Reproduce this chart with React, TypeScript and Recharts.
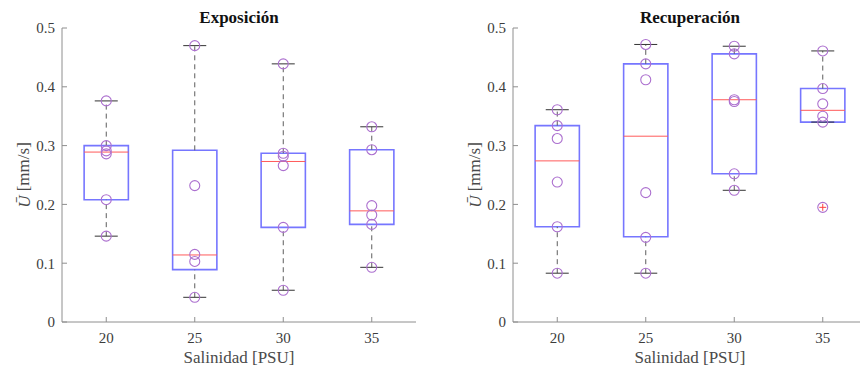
import {
  ComposedChart,
  XAxis,
  YAxis,
  Scatter,
  ReferenceArea,
  ReferenceLine,
  Label,
} from 'recharts'

const salinity = ['20', '25', '30', '35']
const yTicks = [0, 0.1, 0.2, 0.3, 0.4, 0.5]

// Exposición
const expoPoints = [
  [0.376, 0.3, 0.291, 0.286, 0.208, 0.146],
  [0.47, 0.232, 0.115, 0.103, 0.042],
  [0.439, 0.287, 0.282, 0.266, 0.161, 0.054],
  [0.332, 0.293, 0.198, 0.182, 0.166, 0.093],
]
const expoQ1 = [0.208, 0.089, 0.161, 0.166]
const expoMedian = [0.289, 0.114, 0.273, 0.189]
const expoQ3 = [0.3, 0.292, 0.287, 0.293]
const expoLow = [0.146, 0.042, 0.054, 0.093]
const expoHigh = [0.376, 0.47, 0.439, 0.332]
const expoOutliers: number[][] = [[], [], [], []]

// Recuperación
const recuPoints = [
  [0.361, 0.334, 0.312, 0.238, 0.162, 0.083],
  [0.472, 0.439, 0.412, 0.22, 0.144, 0.083],
  [0.469, 0.456, 0.378, 0.375, 0.252, 0.224],
  [0.461, 0.397, 0.371, 0.35, 0.34, 0.195],
]
const recuQ1 = [0.162, 0.145, 0.252, 0.34]
const recuMedian = [0.274, 0.316, 0.378, 0.36]
const recuQ3 = [0.334, 0.439, 0.456, 0.397]
const recuLow = [0.083, 0.083, 0.224, 0.34]
const recuHigh = [0.361, 0.472, 0.469, 0.461]
const recuOutliers: number[][] = [[], [], [], [0.195]]

const FONT = '"Liberation Serif", serif'
const AXIS = '#8e8e8e'
const BOX = '#7676ff'
const MEDIAN = '#ff5a5a'
const CIRCLE = '#ac70cf'
const PLOT_W = 354

interface PanelProps {
  title: string
  points: number[][]
  q1: number[]
  median: number[]
  q3: number[]
  low: number[]
  high: number[]
  outliers: number[][]
  left: number
  width: number
  marginLeft: number
  marginRight: number
  rightFrame: boolean
}

function BoxPanel({
  title,
  points,
  q1,
  median,
  q3,
  low,
  high,
  outliers,
  left,
  width,
  marginLeft,
  marginRight,
  rightFrame,
}: PanelProps) {
  const circles = points.flatMap((vals, i) => vals.map((v) => ({ x: i + 1, y: v })))
  const outs = outliers.flatMap((vals, i) => vals.map((v) => ({ x: i + 1, y: v })))

  return (
    <div style={{ position: 'absolute', left, top: 0, width, height: 366, fontFamily: FONT }}>
      <ComposedChart
        width={width}
        height={366}
        margin={{ top: 28, right: marginRight, bottom: 0, left: marginLeft }}
        style={{ fontFamily: FONT }}
      >
        <XAxis
          dataKey="x"
          type="number"
          domain={[0.5, 4.5]}
          ticks={[1, 2, 3, 4]}
          tickFormatter={(v) => salinity[Number(v) - 1]}
          height={44}
          stroke={AXIS}
          tickSize={-5}
          tickMargin={15}
          tick={{ fontSize: 15, fill: '#3c3c3c', style: { fontFamily: FONT } }}
        >
          <Label
            content={(p: any) => (
              <text
                x={p.viewBox.x + p.viewBox.width / 2}
                y={p.viewBox.y + 35}
                textAnchor="middle"
                dominantBaseline="central"
                style={{ fontFamily: FONT }}
                fontSize={17}
                fill="#4a4a4a"
              >
                Salinidad [PSU]
              </text>
            )}
          />
        </XAxis>
        <XAxis
          xAxisId="top"
          orientation="top"
          type="number"
          domain={[0.5, 4.5]}
          ticks={[1, 2, 3, 4]}
          height={0}
          stroke={AXIS}
          tickSize={-5}
          tick={false}
        />
        <YAxis
          type="number"
          domain={[0, 0.5]}
          ticks={yTicks}
          width={60}
          stroke={AXIS}
          tickSize={-5}
          tickMargin={12}
          tick={{ fontSize: 15, fill: '#3c3c3c', style: { fontFamily: FONT } }}
        >
          <Label
            content={(p: any) => {
              const cx = p.viewBox.x + 21.5
              const cy = p.viewBox.y + p.viewBox.height / 2
              return (
                <g style={{ fontFamily: FONT }}>
                  <text
                    x={p.viewBox.x + p.viewBox.width + PLOT_W / 2}
                    y={p.viewBox.y - 11}
                    textAnchor="middle"
                    dominantBaseline="central"
                    fontSize={17}
                    fontWeight="bold"
                    fill="#111"
                  >
                    {title}
                  </text>
                  <text
                    x={cx}
                    y={cy}
                    transform={`rotate(-90, ${cx}, ${cy})`}
                    textAnchor="middle"
                    dominantBaseline="central"
                    fontSize={17}
                    fill="#4a4a4a"
                  >
                    <tspan fontStyle="italic">Ū</tspan> [mm/s]
                  </text>
                </g>
              )
            }}
          />
        </YAxis>
        {rightFrame && (
          <YAxis
            yAxisId="right"
            orientation="right"
            type="number"
            domain={[0, 0.5]}
            ticks={yTicks}
            width={0}
            stroke={AXIS}
            tickSize={-5}
            tick={false}
          />
        )}

        {salinity.map((_, i) => (
          <ReferenceLine
            key={`wu-${i}`}
            segment={[
              { x: i + 1, y: q3[i] },
              { x: i + 1, y: high[i] },
            ]}
            stroke="#5c5c5c"
            strokeDasharray="5 4"
          />
        ))}
        {salinity.map((_, i) => (
          <ReferenceLine
            key={`wl-${i}`}
            segment={[
              { x: i + 1, y: low[i] },
              { x: i + 1, y: q1[i] },
            ]}
            stroke="#5c5c5c"
            strokeDasharray="5 4"
          />
        ))}
        {salinity.map((_, i) => (
          <ReferenceLine
            key={`cu-${i}`}
            segment={[
              { x: i + 0.87, y: high[i] },
              { x: i + 1.13, y: high[i] },
            ]}
            stroke="#333"
          />
        ))}
        {salinity.map((_, i) => (
          <ReferenceLine
            key={`cl-${i}`}
            segment={[
              { x: i + 0.87, y: low[i] },
              { x: i + 1.13, y: low[i] },
            ]}
            stroke="#333"
          />
        ))}
        {salinity.map((_, i) => (
          <ReferenceArea
            key={`box-${i}`}
            x1={i + 0.75}
            x2={i + 1.25}
            y1={q1[i]}
            y2={q3[i]}
            fill="none"
            fillOpacity={0}
            stroke={BOX}
            strokeWidth={1.6}
          />
        ))}
        {salinity.map((_, i) => (
          <ReferenceLine
            key={`med-${i}`}
            segment={[
              { x: i + 0.75, y: median[i] },
              { x: i + 1.25, y: median[i] },
            ]}
            stroke={MEDIAN}
          />
        ))}

        <Scatter
          data={circles}
          dataKey="y"
          isAnimationActive={false}
          shape={(p: any) => (
            <circle cx={p.cx} cy={p.cy} r={5} fill="none" stroke={CIRCLE} strokeWidth={1.1} />
          )}
        />
        <Scatter
          data={outs}
          dataKey="y"
          isAnimationActive={false}
          shape={(p: any) => (
            <g stroke="#ff4040" strokeWidth={1}>
              <line x1={p.cx - 3.5} y1={p.cy} x2={p.cx + 3.5} y2={p.cy} />
              <line x1={p.cx} y1={p.cy - 3.5} x2={p.cx} y2={p.cy + 3.5} />
            </g>
          )}
        />
      </ComposedChart>
    </div>
  )
}

export default function App() {
  return (
    <div
      style={{
        position: 'absolute',
        left: 0,
        top: 0,
        width: 860,
        height: 366,
        overflow: 'hidden',
        background: '#fff',
        fontFamily: FONT,
      }}
    >
      <BoxPanel
        title="Exposición"
        points={expoPoints}
        q1={expoQ1}
        median={expoMedian}
        q3={expoQ3}
        low={expoLow}
        high={expoHigh}
        outliers={expoOutliers}
        left={0}
        width={430}
        marginLeft={2}
        marginRight={14}
        rightFrame
      />
      <BoxPanel
        title="Recuperación"
        points={recuPoints}
        q1={recuQ1}
        median={recuMedian}
        q3={recuQ3}
        low={recuLow}
        high={recuHigh}
        outliers={recuOutliers}
        left={430}
        width={460}
        marginLeft={23}
        marginRight={23}
        rightFrame={false}
      />
    </div>
  )
}
